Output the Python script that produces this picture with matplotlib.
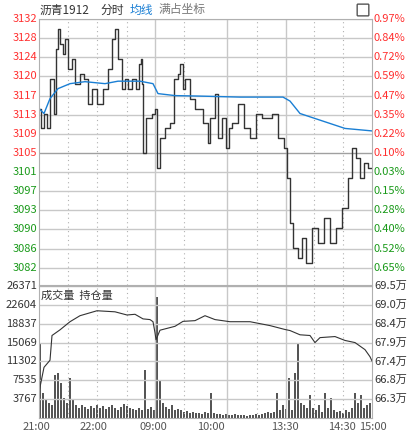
import matplotlib
matplotlib.use("Agg")
import matplotlib.pyplot as plt
import numpy as np

plt.rcParams['font.family'] = ['Noto Sans CJK SC', 'DejaVu Sans']

# x positions measured in "pixel-minutes" from the 21:00 open (0..333)
price_x = [0,2,5,8,11,15,17,19,21,24,26,29,33,36,41,45,49,53,58,64,69,73,76,79,83,86,89,93,97,100,102,103,104,107,113,116,118,121,126,131,135,139,141,144,146,151,156,164,169,171,176,179,183,187,190,193,199,205,211,217,223,233,239,245,248,251,254,259,263,267,273,279,285,291,297,303,309,313,317,321,325,329,333]
price_y = [3114,3110,3113,3110,3120,3113,3126,3130,3127,3125,3128,3122,3124,3119,3121,3120,3115,3118,3115,3118,3122,3128,3130,3124,3118,3120,3118,3120,3118,3123,3124,3119,3105,3112,3113,3114,3102,3108,3110,3111,3120,3121,3123,3118,3120,3116,3114,3111,3107,3112,3117,3108,3112,3106,3110,3111,3115,3110,3108,3113,3112,3113,3108,3106,3100,3091,3086,3084,3088,3083,3090,3087,3092,3087,3090,3094,3100,3106,3104,3100,3103,3102,3102]
avg_x = [0,5,11,19,31,46,66,79,101,114,119,136,161,201,244,251,261,276,291,306,333]
avg_y = [3114,3113,3116,3118,3119,3119.4,3119,3119.5,3119.5,3119,3117,3116.6,3116.5,3116.3,3116.3,3115.5,3113,3112,3111,3110,3109.5]

vol = [15000,5000,3500,3000,2500,8500,9000,7000,4000,3000,8000,
       3500,2500,2000,2500,2200,1800,2400,2000,2500,2000,
       2300,1800,2200,2600,2000,1500,2200,2800,2400,2000,
       1800,1500,2000,1600,9500,1800,2200,1500,24100,7500,
       3000,2200,1800,2500,1500,1800,1500,1200,1300,1000,
       1200,900,1000,800,1100,1000,5000,900,700,800,
       600,700,500,600,700,500,600,500,400,600,
       500,700,600,800,1000,1200,900,1100,5000,1500,
       2500,1800,8000,1500,9000,15000,3000,2500,2000,4500,
       2000,1500,2500,1200,5000,2000,4000,1500,1200,1400,
       1000,1500,1200,2000,5000,3000,4500,2000,2500,3000,4000]
oi_x = [0,5,11,13,21,31,41,58,76,88,96,104,111,114,116,117,121,136,144,156,166,176,191,211,231,246,251,261,271,276,281,296,306,316,326,331,333]
oi_y = [66.5,67.2,67.4,68.1,68.26,68.49,68.66,68.8,68.77,68.68,68.7,68.57,68.55,68.49,68.18,67.98,68.25,68.36,68.5,68.52,68.66,68.55,68.49,68.49,68.38,68.27,68.24,68.12,68.1,67.9,68.04,68.07,67.96,67.9,67.7,67.5,67.38]

price_ticks = [3132,3128,3124,3120,3117,3113,3109,3105,3101,3097,3093,3090,3086,3082]
pct_labels = ['0.97%','0.84%','0.72%','0.59%','0.47%','0.35%','0.22%','0.10%','0.03%','0.15%','0.28%','0.40%','0.52%','0.65%']
vol_ticks = [26371,22604,18837,15069,11302,7535,3767]
oi_labels = ['69.5万','69.0万','68.4万','67.9万','67.4万','66.8万','66.3万']
time_labels = ['21:00','22:00','09:00','10:00','13:30','14:30','15:00']
time_pos = [-16,41,100,158,232,289,320]

W, H = 413, 436
fig = plt.figure(figsize=(W/100, H/100), dpi=100)
L, R = 39/W, 372/W
ax = fig.add_axes([L, 1-285/H, R-L, (285-19)/H])
ax2 = fig.add_axes([L, 1-418/H, R-L, (418-286)/H])

RED = '#ff3030'; GREEN = '#1a9a1a'; GRID = '#c8c8c8'
step = (3132-3082)/13
for a in (ax, ax2):
    a.set_xlim(0, 333)
    for s in ['top','bottom','left','right']:
        a.spines[s].set_color('#b0b0b0')
    a.tick_params(length=0)
    a.set_xticks([])
    for x in [116,188,247]:
        a.axvline(x, color=GRID, lw=1)
    for x in [29,58,88,145,218,275,304]:
        a.axvline(x, color='#b0b0b0', lw=0.8, ls=(0,(1,3)))

ax.set_ylim(3082-17/18.8*step, 3132)
for i, t in enumerate(price_ticks):
    yv = 3132 - i*step
    ax.axhline(yv, color='#a0a0a0' if i == 7 else GRID, lw=1)
    c = RED if i <= 7 else GREEN
    ax.text(-2, yv, str(t), ha='right', va='center', color=c, fontsize=8, transform=ax.transData, clip_on=False)
    ax.text(335, yv, pct_labels[i], ha='left', va='center', color=c, fontsize=8, clip_on=False)
ax.set_yticks([])
ax.plot(price_x, price_y, drawstyle='steps-post', color='#333333', lw=1)
ax.plot(avg_x, avg_y, color='#1a7fd4', lw=1)

vstep = 3767
ax2.set_ylim(0, 26371)
for i, t in enumerate(vol_ticks):
    yv = 26371 - i*vstep
    ax2.axhline(yv, color=GRID, lw=1)
    ax2.text(-2, yv, str(t), ha='right', va='center', color='#333333', fontsize=8, clip_on=False)
    ax2.text(335, yv, oi_labels[i], ha='left', va='center', color='#333333', fontsize=8, clip_on=False)
ax2.set_yticks([])
vx = np.arange(len(vol))*3
ax2.bar(vx, vol, width=1.6, color='#555555', align='edge')
oi_v = [3767 + (o-66.3)/(69.5-66.3)*(26371-3767) for o in oi_y]
ax2.plot(oi_x, oi_v, color='#333333', lw=0.8)
ax2.text(2, 24500, '成交量  持仓量', fontsize=8, color='#333333', va='center')

for lab, p in zip(time_labels, time_pos):
    ax2.text(p, -0.07, lab, transform=ax2.get_xaxis_transform(), ha='left', va='center', fontsize=8, color='#555555', clip_on=False)

fig.text(40/W, 1-10/H, '沥青1912', fontsize=8.5, color='#333333', va='center')
fig.text(100/W, 1-10/H, '分时', fontsize=8.5, color='#333333', va='center')
fig.text(130/W, 1-10/H, '均线', fontsize=8.5, color='#1a7fd4', va='center')
fig.text(158/W, 1-10/H, '满占坐标', fontsize=8.5, color='#777777', va='center')
fig.patches.append(matplotlib.patches.FancyBboxPatch((358/W, 1-15/H), 10/W, 10/H, boxstyle='round,pad=0.002', transform=fig.transFigure, fc='white', ec='#555555', lw=1))
fig.savefig('out.png', dpi=100, facecolor='white')
